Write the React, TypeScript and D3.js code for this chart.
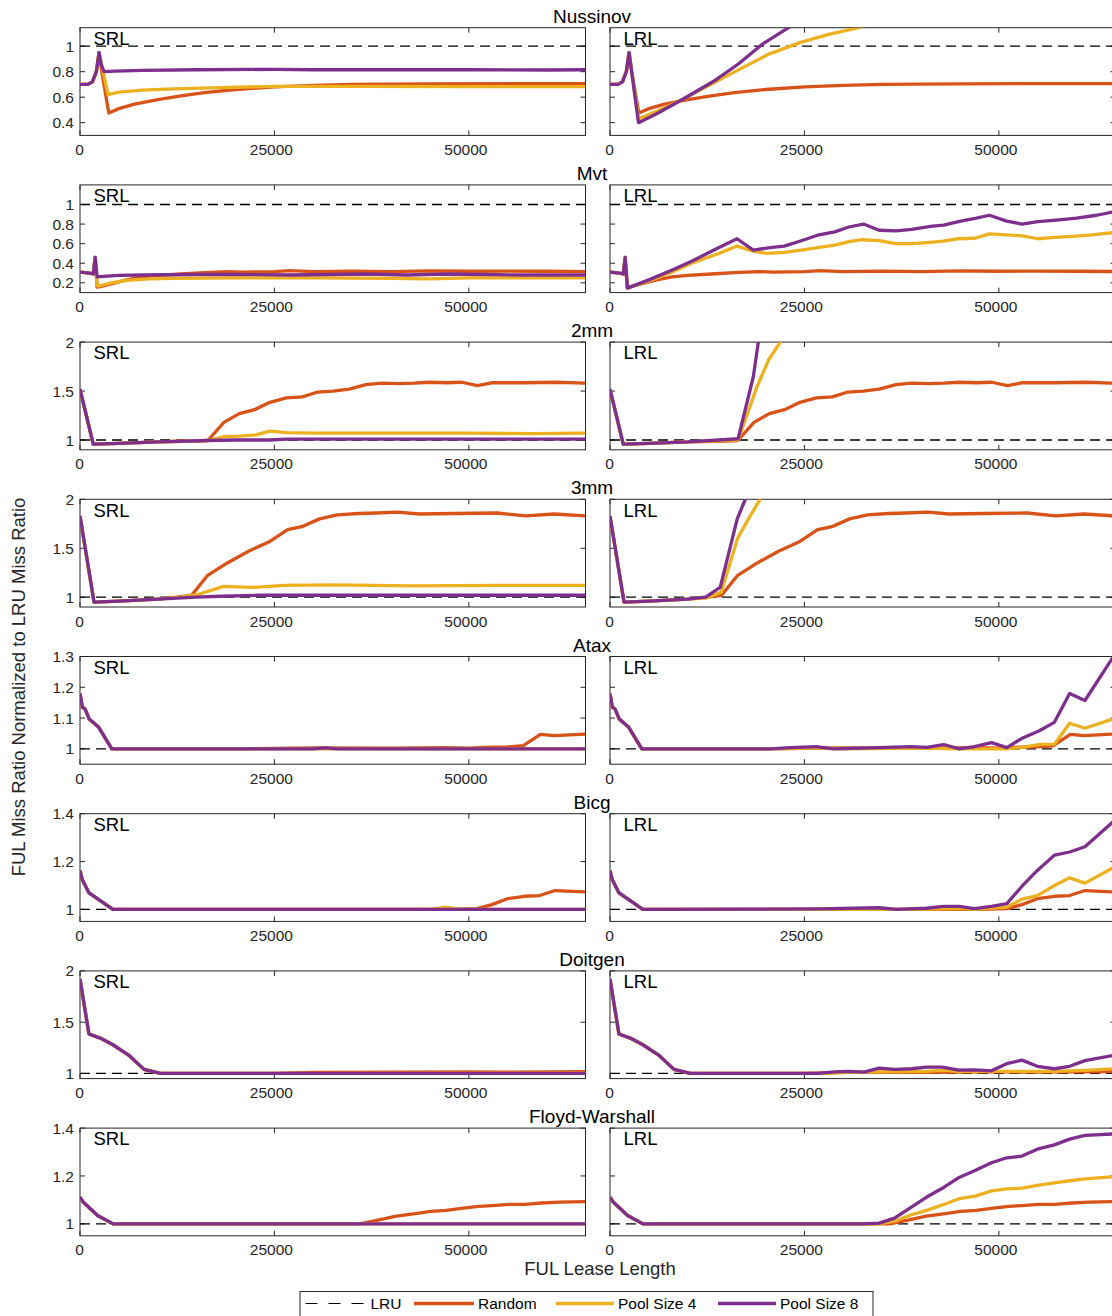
import React from "react";
import * as d3 from "d3";

type Pt = [number, number];

const WIDTH = 1112;
const HEIGHT = 1316;
const FONT = "'Liberation Sans', Arial, Helvetica, sans-serif";
const INK = "#262626";

const benchmarks = ["Nussinov", "Mvt", "2mm", "3mm", "Atax", "Bicg", "Doitgen", "Floyd-Warshall"];
const policies = ["SRL", "LRL"];
const legendNames = ["LRU", "Random", "Pool Size 4", "Pool Size 8"];
const lineColors = ["#000000", "#D95319", "#EDB120", "#7E2F8E"];
const xTicks = [0, 25000, 50000];
const xDomain: Pt = [0, 65000];
const yDomains: Pt[] = [
  [0.3, 1.145], [0.1, 1.2], [0.9, 2], [0.9, 2], [0.95, 1.3], [0.95, 1.4], [0.95, 2], [0.95, 1.4],
];
const yTicks = [
  [0.4, 0.6, 0.8, 1], [0.2, 0.4, 0.6, 0.8, 1], [1, 1.5, 2], [1, 1.5, 2],
  [1, 1.1, 1.2, 1.3], [1, 1.2, 1.4], [1, 1.5, 2], [1, 1.2, 1.4],
];

// ---- Nussinov
const nussinovStart: Pt[] = [[0, 0.7], [1000, 0.7], [1600, 0.72], [2100, 0.8], [2450, 0.95]];
const nussinovRandom: Pt[] = [...nussinovStart, [2800, 0.8], [3700, 0.475], [5000, 0.51], [7000, 0.545], [10000, 0.58], [13000, 0.61], [16000, 0.635], [20000, 0.66], [25000, 0.68], [30000, 0.692], [35000, 0.7], [45000, 0.705], [55000, 0.706], [65000, 0.707]];
const nussinovSrlPool4: Pt[] = [...nussinovStart, [3600, 0.62], [5000, 0.64], [8000, 0.655], [12000, 0.665], [18000, 0.675], [25000, 0.685], [35000, 0.685], [50000, 0.683], [65000, 0.683]];
const nussinovSrlPool8: Pt[] = [...nussinovStart, [2750, 0.85], [3100, 0.8], [4500, 0.805], [8000, 0.81], [15000, 0.815], [25000, 0.818], [30000, 0.815], [40000, 0.815], [50000, 0.815], [60000, 0.813], [65000, 0.815]];
const nussinovLrlPool4: Pt[] = [...nussinovStart, [3660, 0.43], [6000, 0.49], [9250, 0.58], [13600, 0.72], [17000, 0.83], [20500, 0.94], [24500, 1.03], [28000, 1.09], [31800, 1.143], [34000, 1.18]];
const nussinovLrlPool8: Pt[] = [...nussinovStart, [3660, 0.4], [6000, 0.47], [9250, 0.58], [13600, 0.735], [16500, 0.86], [19700, 1.02], [22900, 1.143], [25000, 1.22]];

// ---- Mvt
const mvtStart: Pt[] = [[0, 0.31], [1200, 0.3], [1700, 0.29], [1950, 0.46]];
const mvtRandom: Pt[] = [...mvtStart, [2200, 0.155], [2600, 0.16], [4000, 0.19], [6000, 0.23], [8000, 0.26], [10000, 0.275], [13000, 0.29], [16000, 0.305], [19000, 0.315], [21000, 0.31], [25000, 0.315], [27000, 0.325], [30000, 0.315], [35000, 0.32], [40000, 0.315], [45000, 0.322], [50000, 0.318], [55000, 0.32], [60000, 0.318], [65000, 0.315]];
const mvtSrlPool4: Pt[] = [...mvtStart, [2200, 0.17], [2600, 0.17], [4000, 0.2], [6000, 0.225], [9000, 0.24], [12000, 0.245], [20000, 0.25], [30000, 0.25], [40000, 0.245], [45000, 0.24], [50000, 0.25], [65000, 0.25]];
const mvtSrlPool8: Pt[] = [...mvtStart, [2200, 0.26], [3000, 0.265], [5000, 0.275], [8000, 0.28], [15000, 0.285], [20000, 0.285], [27000, 0.28], [32000, 0.285], [37000, 0.29], [42000, 0.28], [47000, 0.29], [52000, 0.285], [57000, 0.28], [65000, 0.28]];
const mvtLrlPool4: Pt[] = [...mvtStart, [2250, 0.146], [5000, 0.22], [8000, 0.31], [10500, 0.4], [14000, 0.5], [16330, 0.575], [18500, 0.52], [20200, 0.5], [22400, 0.51], [24600, 0.535], [26700, 0.56], [28900, 0.585], [30700, 0.62], [32400, 0.64], [34600, 0.63], [36800, 0.6], [38800, 0.6], [40700, 0.61], [42900, 0.625], [44700, 0.65], [46900, 0.655], [48800, 0.7], [51000, 0.69], [53000, 0.68], [55000, 0.65], [57200, 0.665], [59500, 0.675], [62000, 0.69], [65000, 0.715]];
const mvtLrlPool8: Pt[] = [...mvtStart, [2250, 0.146], [5000, 0.23], [8000, 0.33], [10500, 0.42], [13500, 0.54], [16330, 0.65], [18430, 0.534], [20600, 0.56], [22400, 0.575], [24600, 0.63], [26700, 0.686], [28900, 0.72], [30700, 0.77], [32600, 0.8], [34600, 0.737], [36800, 0.73], [38800, 0.745], [41200, 0.777], [42900, 0.79], [45100, 0.83], [47100, 0.86], [48800, 0.89], [51000, 0.83], [53000, 0.8], [55000, 0.825], [57400, 0.84], [60000, 0.86], [62600, 0.89], [65000, 0.93]];

// ---- 2mm
const mm2Start: Pt[] = [[0, 1.52], [1700, 0.958], [5000, 0.965], [10000, 0.98]];
const mm2Random: Pt[] = [...mm2Start, [15000, 0.99], [16440, 0.995], [18510, 1.18], [20480, 1.27], [22450, 1.31], [24420, 1.385], [26540, 1.43], [28600, 1.44], [30570, 1.49], [32550, 1.5], [34610, 1.52], [36780, 1.565], [38760, 1.58], [40980, 1.575], [42950, 1.58], [44920, 1.59], [47140, 1.585], [49110, 1.59], [51090, 1.555], [53060, 1.585], [57240, 1.585], [61180, 1.59], [65000, 1.58]];
const mm2SrlPool4: Pt[] = [...mm2Start, [16440, 0.995], [18510, 1.034], [20480, 1.04], [22450, 1.05], [24420, 1.09], [26540, 1.075], [30000, 1.07], [40000, 1.07], [50000, 1.07], [58000, 1.065], [65000, 1.07]];
const mm2SrlPool8: Pt[] = [...mm2Start, [16440, 0.995], [20000, 1.0], [24420, 1.0], [26540, 1.01], [40000, 1.01], [65000, 1.01]];
const mm2LrlPool4: Pt[] = [...mm2Start, [16470, 1.0], [18880, 1.54], [20400, 1.82], [21900, 2.0], [23000, 2.15]];
const mm2LrlPool8: Pt[] = [...mm2Start, [16470, 1.013], [18430, 1.646], [19070, 2.0], [19500, 2.1]];

// ---- 3mm
const mm3Start: Pt[] = [[0, 1.83], [1800, 0.95], [5000, 0.96], [10000, 0.98]];
const mm3Random: Pt[] = [...mm3Start, [12500, 1.0], [14350, 1.02], [16370, 1.22], [18940, 1.35], [21670, 1.47], [24420, 1.57], [26700, 1.69], [28530, 1.72], [30800, 1.8], [33100, 1.84], [35830, 1.855], [38130, 1.86], [40850, 1.87], [43600, 1.85], [48170, 1.855], [53660, 1.86], [57300, 1.83], [60950, 1.85], [65000, 1.83]];
const mm3SrlPool4: Pt[] = [...mm3Start, [13000, 1.0], [15260, 1.03], [18470, 1.11], [22110, 1.1], [26230, 1.12], [32620, 1.125], [42630, 1.115], [53660, 1.12], [65000, 1.12]];
const mm3SrlPool8: Pt[] = [...mm3Start, [15000, 1.0], [18000, 1.01], [23000, 1.02], [40000, 1.02], [65000, 1.02]];
const mm3LrlPool4: Pt[] = [...mm3Start, [12300, 0.99], [14300, 1.05], [16400, 1.6], [17800, 1.8], [19300, 2.0], [20000, 2.1]];
const mm3LrlPool8: Pt[] = [...mm3Start, [12300, 1.0], [14170, 1.1], [16360, 1.8], [17400, 2.0], [18000, 2.1]];

// ---- Atax
const ataxStart: Pt[] = [[0, 1.18], [300, 1.135], [640, 1.13], [1180, 1.097], [2410, 1.07], [4090, 1.0]];
const ataxRandom: Pt[] = [...ataxStart, [20000, 1.0], [30000, 1.003], [40000, 1.002], [47000, 1.004], [50000, 1.002], [52000, 1.005], [55000, 1.006], [57000, 1.01], [59200, 1.047], [60950, 1.043], [65000, 1.048]];
const ataxSrlPool4: Pt[] = [...ataxStart, [65000, 1.0]];
const ataxSrlPool8: Pt[] = [...ataxStart, [30000, 1.0], [31500, 1.003], [33000, 1.0], [65000, 1.0]];
const ataxLrlPool4: Pt[] = [...ataxStart, [20600, 1.0], [26500, 1.003], [30000, 1.0], [40000, 1.002], [45000, 1.0], [51000, 1.0], [53000, 1.005], [55150, 1.014], [57140, 1.015], [59100, 1.083], [61070, 1.067], [65000, 1.1]];
const ataxLrlPool8: Pt[] = [...ataxStart, [20600, 1.0], [23250, 1.004], [26520, 1.007], [28710, 1.0], [34600, 1.004], [38750, 1.007], [40720, 1.005], [42910, 1.014], [44900, 1.0], [46870, 1.007], [49060, 1.02], [51030, 1.004], [52980, 1.034], [55150, 1.058], [57140, 1.086], [59100, 1.18], [61070, 1.157], [65000, 1.31]];

// ---- Bicg
const bicgStart: Pt[] = [[0, 1.163], [280, 1.125], [1160, 1.069], [4220, 1.0]];
const bicgRandom: Pt[] = [...bicgStart, [48000, 1.0], [51030, 1.003], [52980, 1.02], [54950, 1.045], [57150, 1.055], [59100, 1.058], [61070, 1.079], [65000, 1.073]];
const bicgSrlPool4: Pt[] = [...bicgStart, [45000, 1.0], [47000, 1.01], [49000, 1.0], [65000, 1.0]];
const bicgSrlPool8: Pt[] = [...bicgStart, [65000, 1.0]];
const bicgLrlPool4: Pt[] = [...bicgStart, [40000, 1.0], [44900, 1.005], [46860, 1.0], [51030, 1.01], [52980, 1.043], [54950, 1.058], [57150, 1.1], [59100, 1.132], [61070, 1.11], [65000, 1.18]];
const bicgLrlPool8: Pt[] = [...bicgStart, [26700, 1.002], [34610, 1.007], [36800, 1.0], [40720, 1.005], [42920, 1.013], [44900, 1.013], [46860, 1.003], [49050, 1.013], [51030, 1.024], [52980, 1.097], [54950, 1.163], [57150, 1.227], [59100, 1.24], [61070, 1.262], [65000, 1.375]];

// ---- Doitgen
const doitgenStart: Pt[] = [[0, 1.92], [1150, 1.385], [2600, 1.345], [4230, 1.28], [6250, 1.18], [8230, 1.04], [10330, 1.0]];
const doitgenRandom: Pt[] = [...doitgenStart, [25000, 1.0], [30000, 1.01], [40000, 1.012], [50000, 1.015], [55000, 1.013], [60000, 1.015], [65000, 1.018]];
const doitgenSrlPool4: Pt[] = [...doitgenStart, [30000, 1.0], [65000, 1.003]];
const doitgenSrlPool8: Pt[] = [...doitgenStart, [65000, 1.0]];
const doitgenLrlPool4: Pt[] = [...doitgenStart, [28000, 1.0], [30670, 1.01], [34610, 1.015], [40720, 1.02], [42700, 1.03], [44890, 1.02], [51010, 1.02], [57140, 1.02], [61070, 1.03], [65000, 1.046]];
const doitgenLrlPool8: Pt[] = [...doitgenStart, [26740, 1.0], [28930, 1.016], [30670, 1.02], [32640, 1.013], [34610, 1.052], [36580, 1.04], [38770, 1.046], [40720, 1.062], [42700, 1.062], [44890, 1.033], [46850, 1.036], [49040, 1.026], [51010, 1.095], [52980, 1.13], [54950, 1.07], [57140, 1.046], [59100, 1.07], [61070, 1.125], [65000, 1.18]];

// ---- Floyd-Warshall
const floydStart: Pt[] = [[0, 1.112], [440, 1.09], [2260, 1.035], [4240, 1.0]];
const floydRandom: Pt[] = [...floydStart, [36000, 1.0], [38460, 1.017], [40660, 1.032], [42890, 1.042], [45100, 1.052], [47070, 1.056], [49540, 1.067], [51270, 1.073], [52990, 1.076], [55200, 1.081], [57170, 1.081], [59390, 1.087], [61600, 1.091], [65000, 1.093]];
const floydSrlPool4: Pt[] = [...floydStart, [65000, 1.0]];
const floydSrlPool8: Pt[] = [...floydStart, [65000, 1.0]];
const floydLrlPool4: Pt[] = [...floydStart, [34610, 1.0], [36580, 1.011], [38750, 1.038], [40720, 1.056], [42910, 1.081], [44890, 1.105], [46860, 1.115], [49050, 1.138], [51020, 1.146], [52980, 1.149], [54950, 1.161], [57140, 1.171], [59100, 1.18], [61070, 1.188], [65000, 1.197]];
const floydLrlPool8: Pt[] = [...floydStart, [32600, 1.0], [34610, 1.003], [36580, 1.024], [38750, 1.07], [40720, 1.112], [42910, 1.152], [44890, 1.194], [46860, 1.222], [49050, 1.255], [51020, 1.276], [52980, 1.283], [54950, 1.312], [57140, 1.33], [59100, 1.354], [61070, 1.37], [65000, 1.376]];

// random replacement looks the same under SRL and LRL
const randomByRow = [nussinovRandom, mvtRandom, mm2Random, mm3Random, ataxRandom, bicgRandom, doitgenRandom, floydRandom];
const pool4ByRow = [
  [nussinovSrlPool4, nussinovLrlPool4], [mvtSrlPool4, mvtLrlPool4], [mm2SrlPool4, mm2LrlPool4], [mm3SrlPool4, mm3LrlPool4],
  [ataxSrlPool4, ataxLrlPool4], [bicgSrlPool4, bicgLrlPool4], [doitgenSrlPool4, doitgenLrlPool4], [floydSrlPool4, floydLrlPool4],
];
const pool8ByRow = [
  [nussinovSrlPool8, nussinovLrlPool8], [mvtSrlPool8, mvtLrlPool8], [mm2SrlPool8, mm2LrlPool8], [mm3SrlPool8, mm3LrlPool8],
  [ataxSrlPool8, ataxLrlPool8], [bicgSrlPool8, bicgLrlPool8], [doitgenSrlPool8, doitgenLrlPool8], [floydSrlPool8, floydLrlPool8],
];

// layout
const panelLefts = [80, 610];
const panelW = 505.5;
const panelH = 107.7;
const firstTop = 27.7;
const rowStep = 157.2;
const tickLen = 5;
const fmt = d3.format("~g");

function Panel({ row, col }: { row: number; col: number }) {
  const left = panelLefts[col];
  const top = firstTop + row * rowStep;
  const x = d3.scaleLinear().domain(xDomain).range([left, left + panelW]);
  const y = d3.scaleLinear().domain(yDomains[row]).range([top + panelH, top]);
  const line = d3.line<Pt>().x(d => x(d[0])).y(d => y(d[1]));
  const series = [randomByRow[row], pool4ByRow[row][col], pool8ByRow[row][col]];
  const clipId = `clip-${row}-${col}`;

  return (
    <g>
      <defs>
        <clipPath id={clipId}>
          <rect x={left} y={top} width={panelW} height={panelH} />
        </clipPath>
      </defs>
      <rect x={left} y={top} width={panelW} height={panelH} fill="white" stroke={INK} strokeWidth={1} />
      {xTicks.map(t => (
        <g key={"x" + t}>
          <line x1={x(t)} x2={x(t)} y1={top + panelH} y2={top + panelH - tickLen} stroke={INK} />
          <line x1={x(t)} x2={x(t)} y1={top} y2={top + tickLen} stroke={INK} />
          {/* labels in the source sit a little left of their ticks */}
          <text x={x(t) - (t > 0 ? 3 : 0.5)} y={top + panelH + 19.5} textAnchor="middle" fontSize={15.5} fill={INK}>
            {fmt(t)}
          </text>
        </g>
      ))}
      {yTicks[row].map(t => (
        <g key={"y" + t}>
          <line x1={left} x2={left + tickLen} y1={y(t)} y2={y(t)} stroke={INK} />
          <line x1={left + panelW} x2={left + panelW - tickLen} y1={y(t)} y2={y(t)} stroke={INK} />
          {col === 0 && (
            <text x={left - 6} y={y(t)} dy="0.36em" textAnchor="end" fontSize={15.5} fill={INK}>
              {fmt(t)}
            </text>
          )}
        </g>
      ))}
      <g clipPath={`url(#${clipId})`}>
        <line x1={x(xDomain[0])} x2={x(xDomain[1])} y1={y(1)} y2={y(1)} stroke={lineColors[0]} strokeWidth={1.3} strokeDasharray="10,6" />
        {series.map((s, i) => (
          <path key={i} d={line(s) || ""} fill="none" stroke={lineColors[i + 1]} strokeWidth={3.3} strokeLinejoin="round" />
        ))}
      </g>
      <text x={left + 13.5} y={top + 17.3} fontSize={18.5} fill="#000">
        {policies[col]}
      </text>
    </g>
  );
}

const legendStarts = [305.5, 414, 556, 718];
const legendLineW = [61, 60, 58, 58];

export default function App() {
  return (
    <svg width={WIDTH} height={HEIGHT} style={{ position: "absolute", left: 0, top: 0, fontFamily: FONT, background: "white" }}>
      <rect width={WIDTH} height={HEIGHT} fill="white" />
      {benchmarks.map((b, row) => (
        <g key={b}>
          <text x={592} y={firstTop + row * rowStep - 5} textAnchor="middle" fontSize={19} fill="#000">
            {b}
          </text>
          {policies.map((p, col) => (
            <Panel key={p} row={row} col={col} />
          ))}
        </g>
      ))}
      <text transform="translate(25,687) rotate(-90)" textAnchor="middle" fontSize={18.5} fill={INK}>
        FUL Miss Ratio Normalized to LRU Miss Ratio
      </text>
      <text x={600} y={1274.5} textAnchor="middle" fontSize={18.5} fill={INK}>
        FUL Lease Length
      </text>
      <g>
        <rect x={300} y={1291.5} width={573} height={40} fill="white" stroke={INK} strokeWidth={1} />
        {legendNames.map((n, i) => (
          <g key={n}>
            <line
              x1={legendStarts[i]}
              x2={legendStarts[i] + legendLineW[i]}
              y1={1303.5}
              y2={1303.5}
              stroke={lineColors[i]}
              strokeWidth={i === 0 ? 1.2 : 3.3}
              strokeDasharray={i === 0 ? "12,11" : undefined}
            />
            <text x={legendStarts[i] + legendLineW[i] + 4} y={1309} fontSize={15.5} fill="#000">
              {n}
            </text>
          </g>
        ))}
      </g>
    </svg>
  );
}
